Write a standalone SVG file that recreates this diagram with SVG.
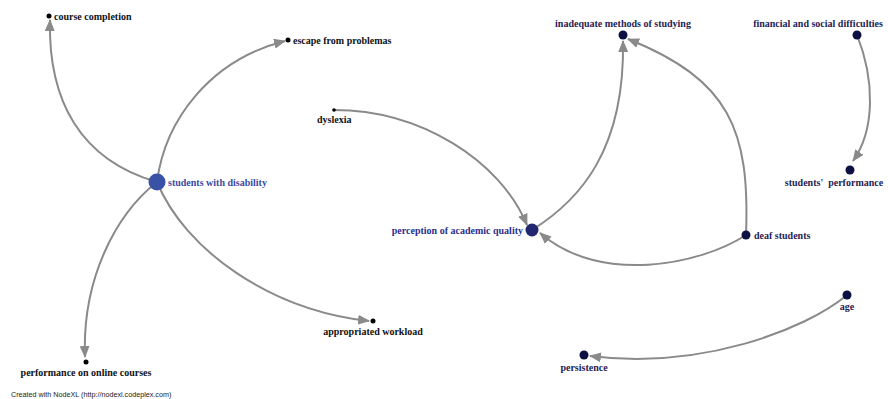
<svg xmlns="http://www.w3.org/2000/svg" width="888" height="399" viewBox="0 0 888 399">
<style>
.edge{fill:none;stroke:#8a8a8a;stroke-width:2}
.lbl{font-family:"Liberation Serif","Times New Roman",serif;font-size:10px;font-weight:bold}
.blk{fill:#111111}
.nav{fill:#1f2256}
.mid{text-anchor:middle}
.end{text-anchor:end}
.dotb{fill:#000000}
.dotn{fill:#0d1042}
</style>
<defs>
<marker id="arr" viewBox="0 0 12 10" refX="11" refY="5" markerWidth="12" markerHeight="10" markerUnits="userSpaceOnUse" orient="auto">
<path d="M0,0 L12,5 L0,10 Z" fill="#8a8a8a"/>
</marker>
</defs>
<rect width="888" height="399" fill="#ffffff"/>
<g id="connectors">
<path class="edge" marker-end="url(#arr)" d="M157,182 C80,160 48,100 50,20"/>
<path class="edge" marker-end="url(#arr)" d="M157,182 C165,120 210,60 285,41"/>
<path class="edge" marker-end="url(#arr)" d="M157,182 C115,215 82,280 85,357"/>
<path class="edge" marker-end="url(#arr)" d="M157,182 C185,250 270,310 369,321"/>
<path class="edge" marker-end="url(#arr)" d="M334,110 C420,110 500,160 527,225"/>
<path class="edge" marker-end="url(#arr)" d="M532,230 C580,200 625,150 623,41"/>
<path class="edge" marker-end="url(#arr)" d="M746,235 C750,130 730,80 628,39"/>
<path class="edge" marker-end="url(#arr)" d="M746,235 C700,265 600,285 540,233"/>
<path class="edge" marker-end="url(#arr)" d="M857,35 C875,80 875,130 853,161"/>
<path class="edge" marker-end="url(#arr)" d="M847,295 C805,330 700,370 590,356"/>
</g>
<g id="students-with-disability">
<circle cx="157" cy="182" r="8.5" fill="#3a52a6"/>
<text class="lbl" x="168" y="186" fill="#3b4aa3">students with disability</text>
</g>
<g id="course-completion">
<circle class="dotb" cx="49" cy="16" r="2.5"/>
<text class="lbl blk" x="54" y="20">course completion</text>
</g>
<g id="escape-from-problemas">
<circle class="dotb" cx="288" cy="40" r="2.5"/>
<text class="lbl blk" x="293" y="44">escape from problemas</text>
</g>
<g id="performance-on-online-courses">
<circle class="dotb" cx="86" cy="362" r="2.5"/>
<text class="lbl blk mid" x="86" y="376">performance on online courses</text>
</g>
<g id="appropriated-workload">
<circle class="dotb" cx="373" cy="321" r="2.5"/>
<text class="lbl blk mid" x="373" y="335">appropriated workload</text>
</g>
<g id="dyslexia">
<circle class="dotb" cx="334" cy="110" r="1.8"/>
<text class="lbl blk" x="317" y="123">dyslexia</text>
</g>
<g id="perception-of-academic-quality">
<circle cx="532" cy="230" r="6.5" fill="#23276f"/>
<text class="lbl end" x="523" y="234" fill="#2b2f8c">perception of academic quality</text>
</g>
<g id="inadequate-methods-of-studying">
<circle class="dotn" cx="623" cy="35" r="4.5"/>
<text class="lbl nav mid" x="623" y="27">inadequate methods of studying</text>
</g>
<g id="financial-and-social-difficulties">
<circle class="dotn" cx="857" cy="35" r="4.5"/>
<text class="lbl nav mid" x="818" y="27">financial and social difficulties</text>
</g>
<g id="students-performance">
<circle class="dotn" cx="850" cy="170" r="4.5"/>
<text class="lbl nav mid" x="834" y="186" style="white-space:pre">students'  performance</text>
</g>
<g id="deaf-students">
<circle class="dotn" cx="746" cy="235" r="4.5"/>
<text class="lbl nav" x="754" y="239">deaf students</text>
</g>
<g id="age">
<circle class="dotn" cx="847" cy="295" r="4.5"/>
<text class="lbl nav mid" x="847" y="310">age</text>
</g>
<g id="persistence">
<circle class="dotn" cx="584" cy="355" r="4.5"/>
<text class="lbl nav mid" x="584" y="371">persistence</text>
</g>
<text x="11" y="397" font-family="'Liberation Sans Narrow','Liberation Sans',Arial,sans-serif" font-size="7.2" fill="#222222">Created with NodeXL (http://nodexl.codeplex.com)</text>
</svg>
